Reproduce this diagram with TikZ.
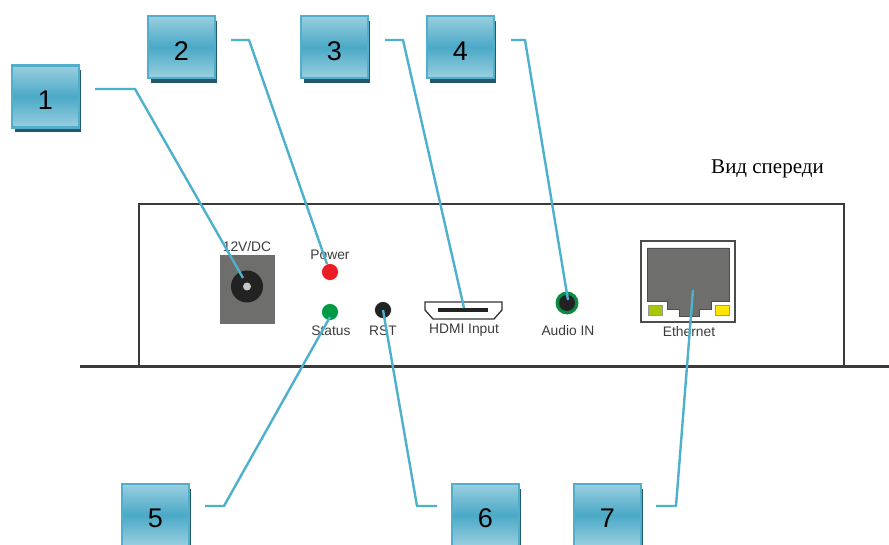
\documentclass[tikz,border=0pt]{standalone}
\usepackage{fontspec}
\setmainfont{Liberation Sans}
\newfontfamily\serifcyr{Liberation Serif}
\usetikzlibrary{shadows}
\definecolor{boxedge}{HTML}{52AFCB}
\definecolor{boxlight}{HTML}{9ACFE0}
\definecolor{boxmid}{HTML}{4AA9C7}
\definecolor{boxshadow}{HTML}{235A6B}
\definecolor{linkc}{HTML}{4DB0CC}
\definecolor{bodyc}{HTML}{3A3A3A}
\definecolor{portgrey}{HTML}{6E6E6C}
\definecolor{labelc}{HTML}{3C3C3C}
\definecolor{ledred}{HTML}{EC1C24}
\definecolor{ledgreen}{HTML}{009A44}
\definecolor{ringgreen}{HTML}{0A8A45}
\definecolor{ledlime}{HTML}{A9C50A}
\definecolor{ledyellow}{HTML}{FFE600}
\definecolor{jackc}{HTML}{222222}
\tikzset{
  numbox/.style={draw=boxedge,line width=2.4pt,minimum width=66.5pt,minimum height=62pt,inner sep=0pt,
    top color=boxlight,bottom color=boxlight,middle color=boxmid,
    general shadow={fill=boxshadow,shadow xshift=2.5pt,shadow yshift=-5pt},
    text=black},
  numtext/.style={font=\fontsize{27}{27}\selectfont,text=black,inner sep=0pt},
  link/.style={draw=linkc,line width=2.4pt,line join=round},
  portlabel/.style={font=\fontsize{13.8}{14}\selectfont,text=labelc,inner sep=0pt,anchor=base},
  led/.style={circle,draw=white,line width=.6pt,minimum size=17pt,inner sep=0pt}
}
\begin{document}
\begin{tikzpicture}[x=1pt,y=-1pt]
\clip (0,0) rectangle (889,545);
\fill[white] (0,0) rectangle (889,545);
% enclosure
\draw[bodyc,line width=1.3pt] (139,366) -- (139,204) -- (844,204) -- (844,366);
\draw[bodyc,line width=3pt] (80,366) -- (889,366);
% DC jack
\fill[portgrey] (220,255) rectangle (275,324);
\node[circle,fill=jackc,minimum size=32pt,inner sep=0pt] (jack) at (247,286.5) {};
\node[circle,fill=black!22,minimum size=8pt,inner sep=0pt] (jackpin) at (247,286.5) {};
% LEDs and button
\node[led,fill=ledred] (power) at (330,272) {};
\node[led,fill=ledgreen] (status) at (330,312) {};
\node[led,fill=jackc] (rst) at (383,310) {};
% HDMI
\draw[black!80,line width=1.3pt,fill=white] (425,302) -- (502,302) -- (502,310) -- (494,319) -- (433,319) -- (425,310) -- cycle;
\fill[jackc] (438,308.5) rectangle (487.5,312);
% Audio
\node[circle,fill=ringgreen,minimum size=23pt,inner sep=0pt] (audio) at (567,303) {};
\node[circle,fill=jackc,minimum size=16pt,inner sep=0pt] (audioin) at (567,303) {};
% Ethernet
\draw[black!70,line width=1.3pt,fill=white] (641,241) rectangle (735,322);
\fill[portgrey,draw=black!70,line width=.5pt] (647,248) -- (729,248) -- (729,301) -- (711,301) -- (711,309) -- (699,309) -- (699,316) -- (679,316) -- (679,309) -- (667,309) -- (667,301) -- (647,301) -- cycle;
\fill[ledlime,draw=black!40,line width=.4pt] (648,305) rectangle (662,315);
\fill[ledyellow,draw=black!40,line width=.4pt] (715,305) rectangle (729,315);
% labels
\node[portlabel] (l12v) at (247,252) {12V/DC};
\node[portlabel] (lpower) at (330,260) {Power};
\node[portlabel] (lstatus) at (331,335) {Status};
\node[portlabel] (lrst) at (383,335) {RST};
\node[portlabel] (lhdmi) at (464,334) {HDMI Input};
\node[portlabel] (laudio) at (568,335) {Audio IN};
\node[portlabel] (leth) at (689,337) {Ethernet};
\node[font=\serifcyr\fontsize{21}{21}\selectfont,text=black,inner sep=0pt] (title) at (767.5,169) {Вид спереди};
% numbered boxes
\node[numbox] (b1) at (45.5,96.5) {};
\node[numbox] (b2) at (181.5,47) {};
\node[numbox] (b3) at (334.5,47) {};
\node[numbox] (b4) at (460.5,47) {};
\node[numbox] (b5) at (155.5,515) {};
\node[numbox] (b6) at (485.5,515) {};
\node[numbox] (b7) at (607.5,515) {};
\node[numtext] (n1) at (45.5,100) {1};
\node[numtext] (n2) at (181.5,51) {2};
\node[numtext] (n3) at (334.5,51) {3};
\node[numtext] (n4) at (460.5,51) {4};
\node[numtext] (n5) at (155.5,518) {5};
\node[numtext] (n6) at (485.5,518) {6};
\node[numtext] (n7) at (607.5,518) {7};
% connector ends
\coordinate (s1) at (95,89);  \coordinate (k1) at (135,89);  \coordinate (e1) at (243,278);
\coordinate (s2) at (231,40); \coordinate (k2) at (249,40);  \coordinate (e2) at (327,264);
\coordinate (s3) at (385,40); \coordinate (k3) at (403,40);  \coordinate (e3) at (464,308);
\coordinate (s4) at (511,40); \coordinate (k4) at (525,40);  \coordinate (e4) at (568,300);
\coordinate (s5) at (205,506);\coordinate (k5) at (224,506); \coordinate (e5) at (330,317);
\coordinate (s6) at (437,506);\coordinate (k6) at (417,506); \coordinate (e6) at (383,310);
\coordinate (s7) at (656,506);\coordinate (k7) at (676,506); \coordinate (e7) at (693,290);
\foreach \i in {1,...,7} {\draw[link] (s\i) -- (k\i) -- (e\i);}
\end{tikzpicture}
\end{document}
